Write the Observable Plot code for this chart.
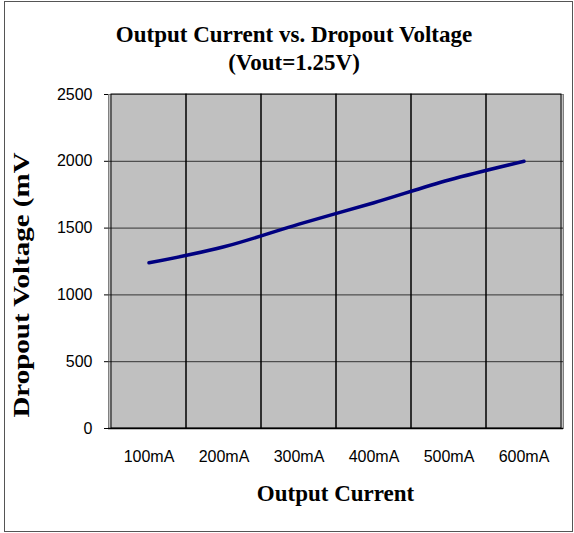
<!DOCTYPE html>
<html>
<head>
<meta charset="utf-8">
<script src="https://cdn.jsdelivr.net/npm/d3@7"></script>
<script src="https://cdn.jsdelivr.net/npm/@observablehq/plot@0.6"></script>
<style>
  html, body { margin: 0; padding: 0; background: #fff; }
  #wrap { position: relative; width: 574px; height: 533px; overflow: hidden; }
  #border { position: absolute; left: 4px; top: 1px; width: 567px; height: 529px; border: 1px solid #555; box-sizing: content-box; }
  .ttl { position: absolute; font-family: "Liberation Serif", "Times New Roman", serif; font-weight: bold; color: #000; white-space: nowrap; line-height: 26px; }
  #t1 { left: 0; width: 588px; text-align: center; top: 22px; font-size: 23px; }
  #t2 { left: 0; width: 588px; text-align: center; top: 50px; font-size: 23px; }
  #xl { left: 108px; width: 455px; text-align: center; top: 481px; font-size: 23px; }
  #yl { left: 22px; top: 285px; font-size: 23px; transform: translate(-50%, -50%) rotate(-90deg) scaleX(1.26); }
  #chart { position: absolute; left: 0; top: 0; }
</style>
</head>
<body>
<div id="wrap">
  <div id="chart"></div>
  <div id="border"></div>
  <div class="ttl" id="t1">Output Current vs. Dropout Voltage</div>
  <div class="ttl" id="t2">(Vout=1.25V)</div>
  <div class="ttl" id="xl">Output Current</div>
  <div class="ttl" id="yl">Dropout Voltage (mV</div>
</div>
<script>
const categories = ["100mA", "200mA", "300mA", "400mA", "500mA", "600mA"];
const dropout = [1240, 1360, 1530, 1690, 1860, 2000];
const yTicks = [0, 500, 1000, 1500, 2000, 2500];

const data = categories.map((c, i) => ({current: c, mv: dropout[i]}));

const chart = Plot.plot({
  width: 574,
  height: 533,
  marginLeft: 108,
  marginRight: 11,
  marginTop: 94,
  marginBottom: 105,
  style: {background: "transparent", fontFamily: "'Liberation Sans', Arial, sans-serif", fontSize: "16px", color: "#000"},
  x: {type: "band", domain: categories, paddingInner: 0, paddingOuter: 0, label: null},
  y: {domain: [0, 2500], label: null},
  marks: [
    Plot.frame({fill: "#c0c0c0", stroke: "#808080"}),
    Plot.ruleY(yTicks.slice(1, -1), {stroke: "#333", strokeWidth: 1}),
    Plot.cell(categories, {x: d => d, fill: "none", stroke: "#000", strokeWidth: 1, inset: 0}),
    Plot.ruleY([0], {stroke: "#000", strokeWidth: 1.5}),
    Plot.axisY({ticks: yTicks, tickFormat: d => String(d), tickSize: 4, tickPadding: 12, fontSize: 16, label: null, stroke: "#000"}),
    Plot.axisX({tickSize: 0, tickPadding: 22, fontSize: 16, label: null}),
    Plot.line(data, {x: "current", y: "mv", stroke: "#000080", strokeWidth: 3.5, curve: "catmull-rom"})
  ]
});
document.getElementById("chart").appendChild(chart);
</script>
</body>
</html>
